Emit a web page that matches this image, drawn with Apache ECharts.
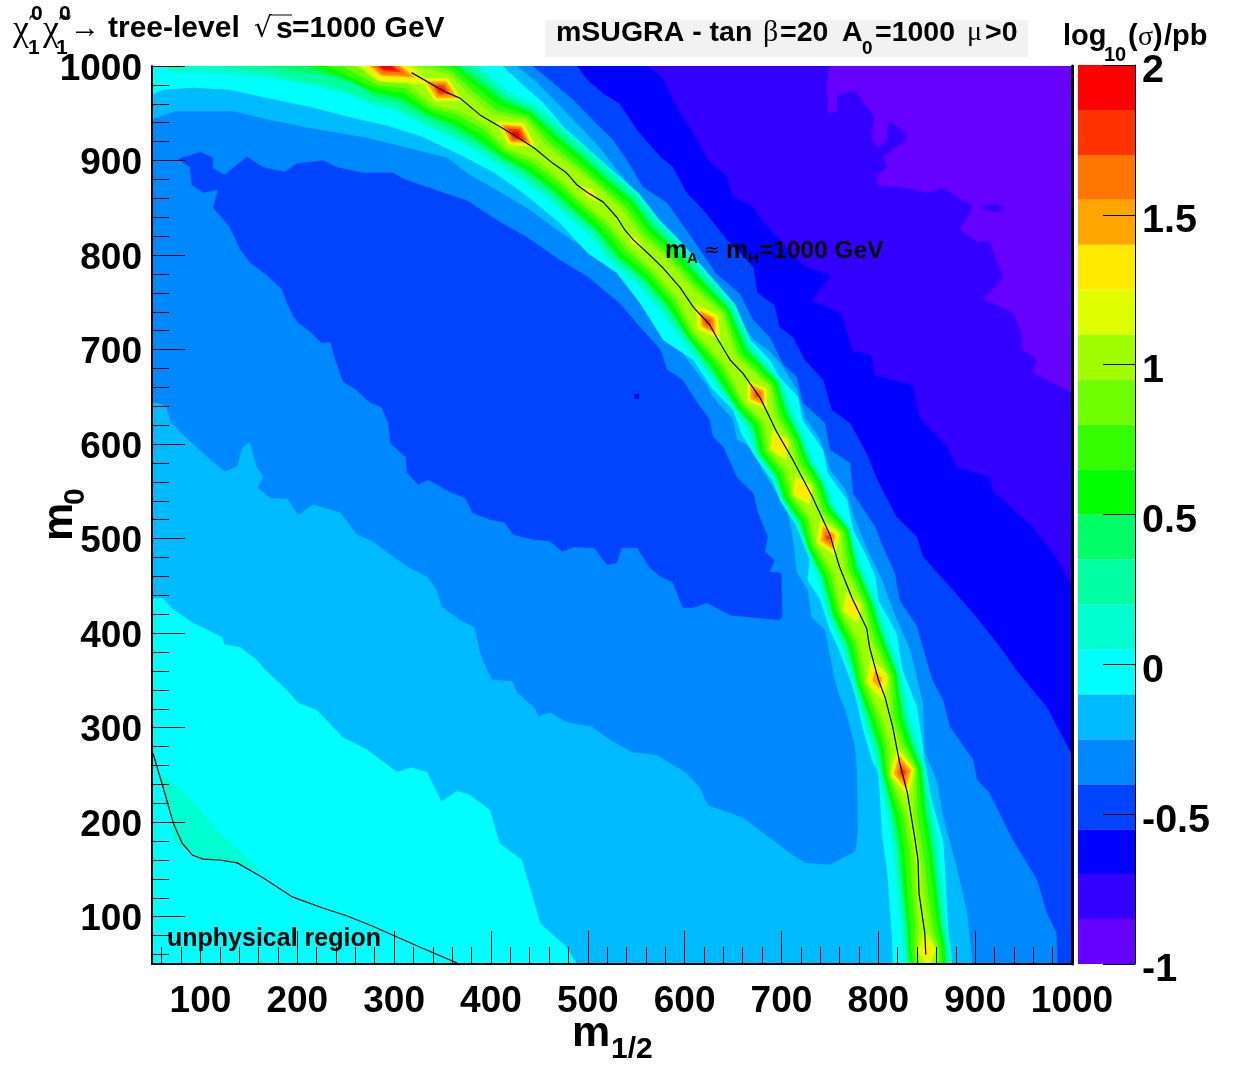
<!DOCTYPE html>
<html><head><meta charset="utf-8"><style>html,body{margin:0;padding:0;background:#fff}#c{width:1245px;height:1072px}</style>
<script src="https://cdn.jsdelivr.net/npm/echarts@6/dist/echarts.min.js"></script></head>
<body><div id="c"></div>
<script>
// colour scale, low to high
const bandLower=[-1,-0.85,-0.7,-0.55,-0.4,-0.25,-0.1,0.05,0.2,0.35,0.5,0.65,0.8,0.95,1.1,1.25,1.4,1.55,1.7,1.85];
const bandColors=['#6600ff','#3300ff','#0000ff','#0044ff','#0088ff','#00bbff','#00ffff','#00ffd0','#00ffa0','#00ff66','#00ff00','#33ff00','#6fff00','#9fff00','#dfff00','#ffea00','#ffa500','#ff7700','#ff3300','#ff0000'];
const colorTicks=[-1,-0.5,0,0.5,1,1.5,2];
const xMajor=[100,200,300,400,500,600,700,800,900,1000];
const xLongTicks=[200,300,400,500,600,700,800,900,1000];
const yMajor=[100,200,300,400,500,600,700,800,900,1000];
const xMinor=[60,80,100,120,140,160,180,200,220,240,260,280,300,320,340,360,380,400,420,440,460,480,500,520,540,560,580,600,620,640,660,680,700,720,740,760,780,800,820,840,860,880,900,920,940,960,980,1000];
const yMinor=xMinor;

// contours, (m1/2, m0)
const plotArea=[[50,50],[1000,50],[1000,1000],[50,1000]];
const c3300=[[50,1000],[750,1000],[747,982],[748,950],[757,951],[758,969],[776,974],[796,946],[793,925],[799,913],[809,922],[810,943],[829,929],[829,922],[805,904],[809,893],[799,885],[799,874],[830,871],[850,866],[867,871],[898,851],[884,827],[902,814],[915,814],[929,776],[909,753],[939,739],[948,718],[949,700],[964,689],[959,676],[1000,654],[1000,50],[50,50]];
const c3300island=[[907,852],[920,854],[929,852],[929,846],[920,845],[908,849]];
const c0000=[[50,1000],[562,1000],[578,987],[592,956],[609,929],[624,901],[644,883],[650,862],[671,851],[678,840],[688,827],[712,802],[722,789],[752,778],[731,752],[762,738],[774,699],[793,694],[796,673],[836,662],[843,628],[871,597],[881,576],[915,565],[918,551],[960,512],[984,480],[1000,449],[1000,50],[50,50]];
const c0044=[[50,1000],[489,1000],[500,985],[516,971],[533,960],[551,932],[575,904],[588,893],[602,866],[619,848],[644,816],[671,787],[675,760],[693,747],[698,724],[712,713],[724,689],[743,668],[752,636],[771,622],[788,590],[799,562],[819,523],[840,502],[846,481],[874,449],[898,421],[926,385],[944,359],[974,322],[1000,271],[1000,50],[50,50]];
const c0088=[[50,1000],[443,1000],[461,985],[485,964],[505,943],[526,922],[540,901],[557,872],[582,855],[609,816],[633,780],[657,759],[671,731],[688,713],[702,684],[716,671],[722,644],[745,622],[750,594],[771,580],[774,548],[797,512],[805,491],[817,464],[822,435],[840,407],[846,385],[856,350],[867,329],[874,301],[898,266],[902,245],[915,231],[939,181],[964,139],[974,104],[984,83],[985,50],[50,50]];
const valley=[[77,902],[100,909],[113,903],[113,892],[125,885],[148,904],[165,893],[187,888],[200,897],[227,900],[241,893],[268,887],[299,887],[309,881],[334,872],[375,858],[406,837],[437,819],[471,795],[500,777],[533,749],[554,724],[575,700],[582,679],[598,668],[613,644],[626,626],[629,608],[640,597],[654,565],[671,548],[676,527],[686,502],[683,486],[693,477],[688,465],[700,464],[701,417],[698,414],[675,416],[647,419],[623,432],[609,427],[598,427],[588,453],[575,460],[564,469],[551,490],[535,490],[530,474],[520,472],[513,481],[507,490],[485,491],[474,486],[461,497],[443,499],[423,504],[414,517],[399,520],[381,527],[373,543],[358,549],[344,557],[335,562],[325,557],[313,570],[312,586],[296,601],[294,622],[287,639],[275,644],[260,658],[247,666],[239,690],[234,708],[225,707],[213,719],[201,728],[196,735],[189,750],[184,764],[169,778],[151,792],[141,806],[130,830],[113,850],[118,869],[103,866],[91,874],[89,893]];
const valleyDot=[[548,648],[553,648],[553,653],[548,653]];
const c00bb=[[50,944],[74,952],[134,952],[172,943],[210,935],[272,924],[324,911],[355,903],[378,885],[409,867],[440,848],[476,821],[513,797],[544,768],[564,742],[590,710],[603,689],[624,661],[629,650],[650,626],[654,605],[673,594],[680,573],[693,552],[704,538],[709,516],[712,498],[716,464],[727,446],[731,417],[745,403],[755,351],[760,333],[766,319],[776,280],[778,252],[779,189],[776,169],[750,155],[724,157],[712,165],[695,178],[660,205],[624,218],[616,236],[602,252],[571,271],[546,274],[523,287],[504,301],[478,306],[461,316],[449,312],[445,321],[427,337],[422,349],[401,351],[396,361],[389,379],[383,406],[368,414],[349,428],[344,446],[334,460],[316,469],[296,483],[278,497],[262,504],[244,528],[216,536],[201,525],[190,542],[172,543],[159,554],[165,565],[158,576],[151,602],[143,596],[138,576],[125,571],[102,591],[82,610],[69,624],[65,640],[50,645],[50,50],[897,50],[892,103],[881,152],[866,210],[861,242],[848,274],[846,326],[838,361],[833,382],[815,425],[804,456],[789,488],[776,520],[766,552],[750,573],[740,605],[724,629],[716,658],[700,684],[688,698],[671,711],[654,735],[633,767],[609,790],[588,816],[564,844],[547,869],[530,890],[513,913],[492,936],[468,961],[448,982],[427,1000],[50,1000]];
const c00ffLow=[[50,437],[61,437],[72,425],[92,411],[122,396],[125,388],[141,385],[158,372],[167,361],[189,340],[201,326],[220,319],[247,290],[272,277],[303,253],[318,258],[334,253],[349,222],[365,233],[378,229],[399,213],[409,178],[432,160],[442,125],[451,93],[478,68],[489,50],[50,50]];
const c00ffRidge=[[50,969],[61,975],[92,977],[130,975],[165,967],[213,957],[254,946],[296,936],[330,925],[358,911],[368,906],[402,888],[433,866],[471,834],[500,802],[530,781],[554,749],[578,710],[609,689],[628,659],[650,636],[659,610],[675,583],[688,565],[704,548],[711,523],[724,498],[729,478],[727,456],[740,435],[750,403],[758,386],[771,351],[778,327],[784,299],[794,264],[800,253],[804,185],[809,150],[814,79],[815,50],[874,50],[869,150],[867,181],[856,220],[848,255],[846,280],[840,322],[825,361],[819,400],[800,435],[797,460],[788,481],[774,509],[768,541],[748,569],[743,594],[722,625],[717,650],[698,671],[688,689],[671,707],[654,721],[640,745],[616,774],[592,802],[575,819],[554,851],[536,872],[520,890],[500,911],[478,932],[454,961],[433,980],[412,1000],[50,1000]];
const d0Blob=[[58,252],[89,226],[120,189],[165,146],[138,157],[103,161],[81,174],[72,181],[72,199]];

// ridge crest and the half-width of each colour around it
const crestX=[79,130,182,234,265,291,318,349,373,399,426,451,478,502,528,549,575,600,624,647,675,688,698,711,722,735,748,760,773,786,799,809,817,825,833,839,843,847,850,853];
const crestY=[1059,1049,1038,1022,1012,1000,991,975,961,943,928,909,887,865,842,814,790,760,729,689,652,626,599,575,551,525,501,465,427,393,351,308,282,253,208,171,128,91,65,28];
const wD0=[67,58,52,46,44,44,42,42,40,36,38,36,34,34,34,34,32,32,34,28,30,26,28,24,26,23,26,24,27,25,26,24,24,25,24,24,24,24,25,25];
const wA0=[56,50,47,43,41,40,38,38,36,32,34,32,30,30,30,30,28,28,30,25,27,23,25,21,23,20,23,21,24,22,23,21,21,22,21,21,21,21,22,22];
const w66=[40,42,40,33,30,34,32,33,31,28,30,27,26,26,26,26,24,24,26,22,24,20,22,18,20,17,20,18,21,19,20,18,18,19,18,18,18,18,19,19];
const w00=[10,20,28,28,30,30,27,30,26,24,28,24,23,23,24,23,22,22,26,20,25,18,22,18,21,17,23,18,21,18,21,16,16,20,16,16,17,17,19,18];
const w33=[5,12,18,22,26,26,21,26,21,18,24,19,18,18,19,18,17,17,23,15,21,14,18,14,17,13,20,14,17,14,18,12,12,17,12,12,13,14,16,14];
const w6f=[0,5,10,14,20,22,16,22,15,12,21,14,13,14,14,13,13,13,20,11,18,10,15,10,14,9,17,10,14,10,15,8,9,15,7,7,8,9,13,10];
const w9f=[0,0,4,7,13,18,10,18,10,7,18,9,9,11,10,8,9,9,17,7,16,6,12,6,12,6,14,6,12,6,12,4,5,13,3,3,4,5,10,6];

// resonance peaks along the crest
const peakStation=[5,7,10,18,20,22,24,26,28,30,33,38,13,15];
const peakStretch=[3,1.8,1.8,1.8,1.6,1.6,1.6,1.6,1.8,2,2,2,3,3];
const pDf=[18,14,14,13,12,11,11,13,10,12,13,10,5,4];
const pEa=[14,12,12,11,10,8,8,11,7,9,11,5,3,0];
const pA5=[11,10,10,8,8,0,0,8,0,5,9,0,0,0];
const p77=[9,7,8,6,5,0,0,5,0,0,6,0,0,0];
const pR3=[6,5,6,3,2,0,0,2,0,0,3,0,0,0];
const pR0=[4,2,3,0,0,0,0,0,0,0,0,0,0,0];

// the two black curves
const higgsLineX=[318,352,368,389,409,427,445,464,478,489,500,516,530,538,547,564,578,595,609,626,633,647,660,678,695,712,732,750,760,773,788,791,800,807,815,822,830,838,841,842,848,849];
const higgsLineY=[993,973,966,948,936,925,913,897,887,874,866,856,840,827,816,800,786,766,745,726,713,689,675,649,613,583,544,504,470,437,405,385,351,332,300,263,231,181,160,125,83,60];
const unphysX=[51,60,72,81,92,103,120,138,165,195,227,251,278,324,365];
const unphysY=[273,242,199,178,165,161,160,157,141,121,109,101,90,69,51];

const C={};['p','i','b','b44','b88','bbb','cy','d0','a0','g66','g00','g33','g6f','g9f','gdf','yea','oa5','o77','r33','r00'].forEach((k,i)=>C[k]=bandColors[i]);
const polys=[];
function add(points,fill){polys.push({points,fill});}
function normals(i){
  const a=Math.max(i-1,0),b=Math.min(i+1,crestX.length-1);
  const tx=crestX[b]-crestX[a],ty=crestY[b]-crestY[a],l=Math.hypot(tx,ty);
  return [tx/l,ty/l];
}
function band(w,fill){
  const left=[],right=[];
  crestX.forEach((x,i)=>{const [tx,ty]=normals(i);
    left.push([x-ty*w[i],crestY[i]+tx*w[i]]);
    right.unshift([x+ty*w[i],crestY[i]-tx*w[i]]);});
  add(left.concat(right),fill);
}
function diamonds(w,fill){
  peakStation.forEach((s,j)=>{ if(!w[j])return;
    const [tx,ty]=normals(s),x=crestX[s],y=crestY[s],k=w[j],L=k*peakStretch[j];
    add([[x+tx*L,y+ty*L],[x-ty*k,y+tx*k],[x-tx*L,y-ty*L],[x+ty*k,y-tx*k]],fill);
  });
}
add(plotArea,C.p);
add(c3300,C.i);add(c3300island,C.i);add(c0000,C.b);add(c0044,C.b44);add(c0088,C.b88);
add(valley,C.b44);add(valleyDot,C.b);add(c00bb,C.bbb);add(c00ffLow,C.cy);add(c00ffRidge,C.cy);add(d0Blob,C.d0);
band(wD0,C.d0);band(wA0,C.a0);band(w66,C.g66);band(w00,C.g00);band(w33,C.g33);band(w6f,C.g6f);band(w9f,C.g9f);
diamonds(pDf,C.gdf);diamonds(pEa,C.yea);diamonds(pA5,C.oa5);diamonds(p77,C.o77);diamonds(pR3,C.r33);diamonds(pR0,C.r00);

const SANS='"Liberation Sans",Arial,sans-serif', SERIF='"Liberation Serif",serif';
function T(text,x,y,size,opt){opt=opt||{};return {type:'text',x,y,z:100,rotation:opt.rot||0,silent:true,
  style:{text,fill:'#000',fontFamily:opt.family||SANS,fontWeight:opt.weight||'bold',fontSize:size,textAlign:opt.align||'left',textVerticalAlign:'middle',verticalAlign:'middle'}};}
const graphics=[
 {type:'rect',z:90,silent:true,shape:{x:545,y:20,width:483,height:37},style:{fill:'#f2f2f2'}},
 T('χ̃',13,31,36,{family:SERIF,weight:'normal'}),T('0',31,14,21),T('1',28,48,21),
 T('χ̃',43,31,36,{family:SERIF,weight:'normal'}),T('0',59,14,21),T('1',56,48,21),
 T('→',70,29,30,{family:SERIF,weight:'normal'}),
 T('tree-level',108,29,30),
 T('√',254,30,28,{family:'"DejaVu Sans"',weight:'normal'}),
 {type:'line',z:100,silent:true,shape:{x1:272,y1:15,x2:292,y2:15},style:{stroke:'#000',lineWidth:1}},
 T('s',276,30,30),T('=1000 GeV',292,29,30),
 T('mSUGRA - tan',556,33,28.5),T('β',763,33,30,{family:SERIF,weight:'normal'}),T('=20',780,33,28.5),
 T('A',842,33,28.5),T('0',862,49,19),T('=1000',875,33,28.5),T('μ',967,33,28,{family:SERIF,weight:'normal'}),T('>0',985,33,28.5),
 T('log',1063,37,29),T('10',1104,55,20),T('(',1128,37,29),T('σ',1138,38,28,{family:SERIF,weight:'normal'}),T(')',1153,37,29),T('/pb',1164,37,29),
 T('m',665,251,25),T('A',687,259,15),T('≈',704,251,19,{family:'"DejaVu Sans"',weight:'normal'}),T('m',726,251,25),T('H',748,259,15),T('=1000 GeV',759,251,24.5),
 T('unphysical region',167,939,25),
 T('m',572,1034,43),T('1/2',611,1050,30),
 T('m',60,541,43,{rot:Math.PI/2}),T('0',76,505,30,{rot:Math.PI/2})
];

const LAB={color:'#000',fontFamily:SANS,fontWeight:'bold',fontSize:37};
const plain=v=>String(v);
const option={
 backgroundColor:'#fff',animation:false,
 grid:[{left:152,top:66,width:920,height:898},{left:1078,top:65,width:57,height:899}],
 xAxis:[
  {type:'value',gridIndex:0,min:50,max:1000,position:'bottom',z:5,splitLine:{show:false},
   axisLine:{onZero:false,lineStyle:{color:'#000',width:2}},
   axisTick:{inside:true,length:33,lineStyle:{color:'#000',width:1},customValues:xLongTicks},
   axisLabel:Object.assign({margin:19,customValues:xMajor,hideOverlap:false,formatter:plain},LAB)},
  {type:'value',gridIndex:0,min:50,max:1000,position:'bottom',offset:0,z:5,splitLine:{show:false},
   axisLine:{show:false,onZero:false},axisLabel:{show:false},
   axisTick:{inside:true,length:17,lineStyle:{color:'#000',width:1},customValues:xMinor}},
  {type:'value',gridIndex:1,min:0,max:1,show:false}
 ],
 yAxis:[
  {type:'value',gridIndex:0,min:50,max:1000,position:'left',z:5,splitLine:{show:false},
   axisLine:{onZero:false,lineStyle:{color:'#000',width:2}},
   axisTick:{inside:true,length:33,lineStyle:{color:'#000',width:1},customValues:yMajor},
   axisLabel:Object.assign({margin:10,customValues:yMajor,formatter:plain,verticalAlign:'top',lineHeight:7},LAB)},
  {type:'value',gridIndex:0,min:50,max:1000,position:'left',offset:0,z:5,splitLine:{show:false},
   axisLine:{show:false,onZero:false},axisLabel:{show:false},
   axisTick:{inside:true,length:17,lineStyle:{color:'#000',width:1},customValues:yMinor}},
  {type:'value',gridIndex:0,min:50,max:1000,position:'right',offset:0,z:5,splitLine:{show:false},
   axisLine:{show:true,onZero:false,lineStyle:{color:'#000',width:3}},axisTick:{show:false},axisLabel:{show:false}},
  {type:'value',gridIndex:1,min:-1,max:2,interval:0.5,position:'right',z:5,splitLine:{show:false},
   axisLine:{show:true,onZero:false,lineStyle:{color:'#000',width:1}},
   axisTick:{show:true,inside:true,length:32,lineStyle:{color:'#000',width:1},customValues:colorTicks},
   axisLabel:Object.assign({margin:7,customValues:colorTicks,formatter:plain,verticalAlign:'top',lineHeight:13},LAB,{fontSize:39.5})}
 ],
 series:[
  {type:'custom',coordinateSystem:'cartesian2d',xAxisIndex:0,yAxisIndex:0,clip:true,silent:true,z:2,
   data:polys.map((p,i)=>[p.points[0][0],p.points[0][1],i]),encode:{x:0,y:1},
   renderItem:(params,api)=>{const p=polys[api.value(2)];
     return {type:'polygon',shape:{points:p.points.map(q=>api.coord(q))},style:{fill:p.fill}};}},
  {type:'custom',coordinateSystem:'cartesian2d',xAxisIndex:2,yAxisIndex:3,silent:true,z:2,
   data:bandLower.map((v,i)=>[0,v,i]),encode:{x:0,y:1},
   renderItem:(params,api)=>{const i=api.value(2),lo=bandLower[i],a=api.coord([0,lo]),b=api.coord([1,lo+0.15]);
     return {type:'rect',shape:{x:a[0],y:b[1],width:b[0]-a[0],height:a[1]-b[1]},style:{fill:bandColors[i]}};}},
  {type:'line',xAxisIndex:0,yAxisIndex:0,z:4,silent:true,showSymbol:false,clip:true,
   data:higgsLineX.map((x,i)=>[x,higgsLineY[i]]),lineStyle:{color:'#000',width:1.2}},
  {type:'line',xAxisIndex:0,yAxisIndex:0,z:4,silent:true,showSymbol:false,clip:true,
   data:unphysX.map((x,i)=>[x,unphysY[i]]),lineStyle:{color:'#000',width:1.2}}
 ],
 graphic:{elements:graphics}
};
echarts.init(document.getElementById('c'),null,{renderer:'canvas'}).setOption(option);
</script></body></html>
